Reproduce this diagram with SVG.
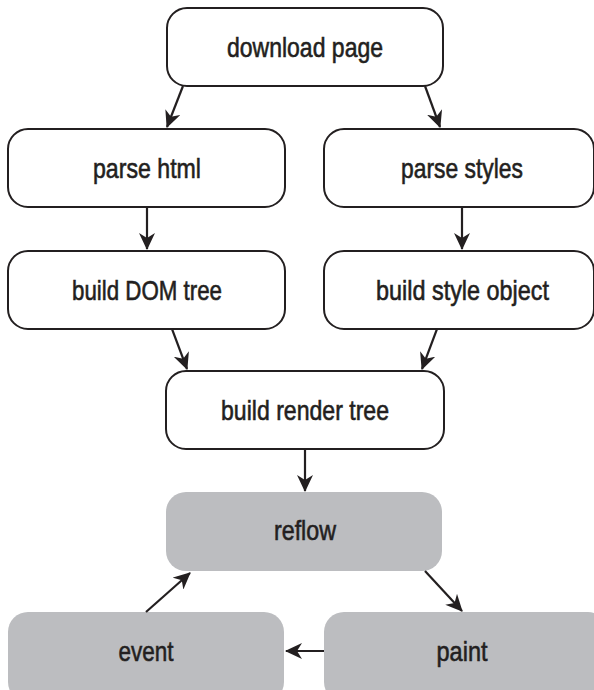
<svg xmlns="http://www.w3.org/2000/svg" width="594" height="690" viewBox="0 0 594 690">
<style>
.box{fill:#fff;stroke:#231f20;stroke-width:2}
.gbox{fill:#bcbdc0;stroke:none}
.lbl{font-family:"Liberation Sans",Arial,sans-serif;font-size:28px;fill:#231f20;stroke:#231f20;stroke-width:0.6;text-anchor:middle}
.edge{stroke:#231f20;stroke-width:2.2;fill:none;marker-end:url(#ah)}
</style>
<defs>
<marker id="ah" markerWidth="17" markerHeight="16" refX="16" refY="8" orient="auto" markerUnits="userSpaceOnUse">
<path d="M0,0 L17,8 L0,16 L5,8 Z" fill="#231f20"/>
</marker>
</defs>
<rect width="594" height="690" fill="#fff"/>
<g id="download"><rect class="box" x="167" y="8" width="276" height="78" rx="20"/><text class="lbl" x="305" y="56.5" textLength="156" lengthAdjust="spacingAndGlyphs">download page</text></g>
<g id="parsehtml"><rect class="box" x="8" y="129" width="277" height="78" rx="20"/><text class="lbl" x="147" y="177.5" textLength="108" lengthAdjust="spacingAndGlyphs">parse html</text></g>
<g id="parsestyles"><rect class="box" x="324" y="129" width="270" height="78" rx="20"/><text class="lbl" x="462" y="177.5" textLength="122" lengthAdjust="spacingAndGlyphs">parse styles</text></g>
<g id="builddom"><rect class="box" x="8" y="251" width="277" height="78" rx="20"/><text class="lbl" x="147" y="299.5" textLength="150" lengthAdjust="spacingAndGlyphs">build DOM tree</text></g>
<g id="buildstyle"><rect class="box" x="324" y="251" width="270" height="78" rx="20"/><text class="lbl" x="462.5" y="299.5" textLength="173" lengthAdjust="spacingAndGlyphs">build style object</text></g>
<g id="render"><rect class="box" x="166" y="371" width="278" height="78" rx="20"/><text class="lbl" x="305" y="419.5" textLength="168" lengthAdjust="spacingAndGlyphs">build render tree</text></g>
<g id="reflow"><rect class="gbox" x="166" y="492" width="276" height="79" rx="20"/><text class="lbl" x="305" y="540" textLength="62" lengthAdjust="spacingAndGlyphs">reflow</text></g>
<g id="event"><rect class="gbox" x="8" y="612" width="276" height="90" rx="20"/><text class="lbl" x="146" y="661" textLength="55" lengthAdjust="spacingAndGlyphs">event</text></g>
<g id="paint"><rect class="gbox" x="324" y="612" width="284" height="90" rx="20"/><text class="lbl" x="462" y="661" textLength="51" lengthAdjust="spacingAndGlyphs">paint</text></g>
<g id="connectors">
<line class="edge" x1="183" y1="86" x2="167" y2="127"/>
<line class="edge" x1="425" y1="86" x2="440" y2="127"/>
<line class="edge" x1="147" y1="207" x2="147" y2="249"/>
<line class="edge" x1="462" y1="207" x2="462" y2="249"/>
<line class="edge" x1="172" y1="329" x2="187" y2="369"/>
<line class="edge" x1="437" y1="329" x2="422" y2="369"/>
<line class="edge" x1="305" y1="449" x2="305" y2="491"/>
<line class="edge" x1="425" y1="571" x2="462" y2="611"/>
<line class="edge" x1="146" y1="612" x2="190" y2="573"/>
<line class="edge" x1="324" y1="651" x2="286" y2="651"/>
</g>
</svg>
